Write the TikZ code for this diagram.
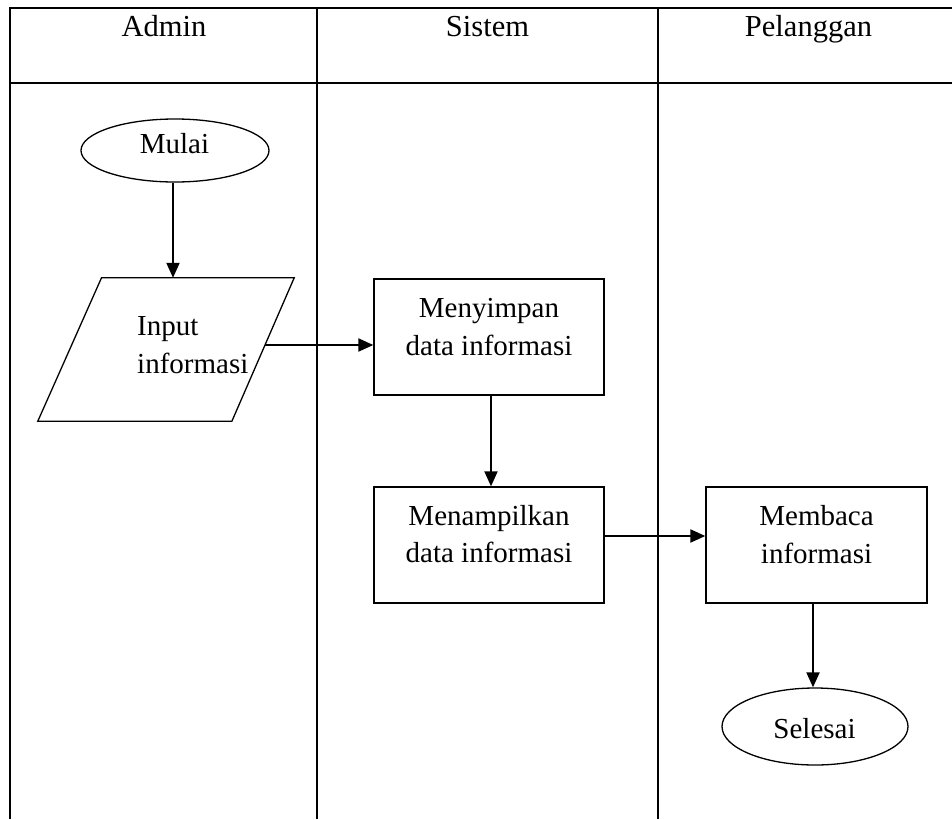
\documentclass[tikz,border=0pt]{standalone}
\usepackage{fontspec}
\setmainfont{Liberation Serif}
\usetikzlibrary{shapes.geometric,arrows.meta}
\begin{document}
\begin{tikzpicture}[x=1pt,y=-1pt,
  lane/.style={line width=2pt},
  shapeline/.style={draw,line width=1.3pt},
  terminal/.style={shapeline,ellipse,inner sep=0pt},
  process/.style={shapeline,rectangle,inner sep=0pt,minimum width=230pt,minimum height=116pt},
  flow/.style={line width=2pt,-{Triangle[length=15pt,width=13pt]}},
  body/.style={font=\fontsize{29}{38}\selectfont,inner sep=0pt,anchor=base},
  head/.style={font=\fontsize{30.5}{36}\selectfont,inner sep=0pt,anchor=base}]
\useasboundingbox (0,0) rectangle (952,819);

% swimlane table
\draw[lane] (10,819) -- (10,7.5) -- (952,7.5);
\draw[lane] (10,82.5) -- (952,82.5);
\draw[lane] (317,7.5) -- (317,819);
\draw[lane] (658,7.5) -- (658,819);

% lane headers
\node[head] (hAdmin) at (164,36.7) {Admin};
\node[head] (hSistem) at (487.5,36.7) {Sistem};
\node[head] (hPelanggan) at (808.5,36.7) {Pelanggan};

% start
\node[terminal, minimum width=188pt, minimum height=63pt] (mulai) at (175,150.5) {};
\node[body] (tMulai) at (174.5,153) {Mulai};

% input (parallelogram)
\node[inner sep=0pt, minimum width=256pt, minimum height=143pt] (input) at (166,349.5) {};
\draw[shapeline] (input.south west) -- ([xshift=63.7pt]input.north west)
  -- (input.north east) -- ([xshift=-62.3pt]input.south east) -- cycle;
\node[body, anchor=base west] (tInput1) at (137,335) {Input};
\node[body, anchor=base west] (tInput2) at (137,373) {informasi};
\coordinate (inR) at (265,345);

% processes
\node[process] (simpan) at (489,337) {};
\node[body] (tSimpan1) at (489,317) {Menyimpan};
\node[body] (tSimpan2) at (489,355) {data informasi};

\node[process] (tampil) at (489,545) {};
\node[body] (tTampil1) at (489,525) {Menampilkan};
\node[body] (tTampil2) at (489,562) {data informasi};

\node[process, minimum width=221pt] (baca) at (816.5,545) {};
\node[body] (tBaca1) at (816.5,525) {Membaca};
\node[body] (tBaca2) at (816.5,563) {informasi};

% end
\node[terminal, minimum width=186pt, minimum height=77pt] (selesai) at (815,726.5) {};
\node[body] (tSelesai) at (814.5,738) {Selesai};

% flow
\draw[flow] ([xshift=-2pt]mulai.south) -- ([xshift=-2pt]mulai.south |- input.north);
\draw[flow] (inR) -- (inR -| simpan.west);
\draw[flow] ([xshift=2pt]simpan.south) -- ([xshift=2pt]tampil.north);
\draw[flow] ([yshift=9pt]tampil.east) -- ([yshift=9pt]baca.west);
\draw[flow] ([xshift=-3.5pt]baca.south) -- ([xshift=-3.5pt]baca.south |- selesai.north);
\end{tikzpicture}
\end{document}
